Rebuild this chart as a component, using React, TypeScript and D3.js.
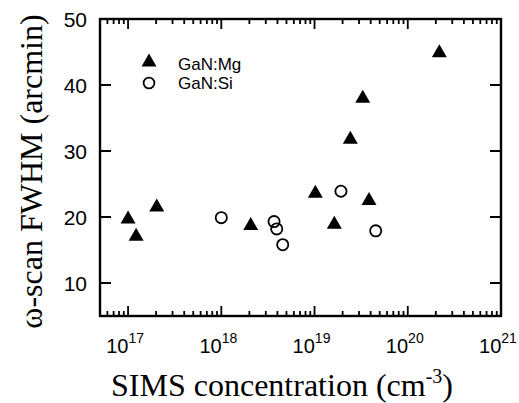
import React, { useEffect, useRef } from 'react';
import * as d3 from 'd3';

// GaN:Mg (filled triangles)
const mgConc = [1.0e17, 1.22e17, 2.03e17, 2.07e18, 1.02e19, 1.63e19, 2.42e19, 3.29e19, 3.84e19, 2.18e20];
const mgFwhm = [20.0, 17.4, 21.8, 19.0, 23.9, 19.2, 32.1, 38.3, 22.8, 45.2];

// GaN:Si (open circles)
const siConc = [1.0e18, 3.68e18, 3.93e18, 4.56e18, 1.92e19, 4.53e19];
const siFwhm = [19.9, 19.3, 18.2, 15.8, 23.9, 17.9];

const xDecades = [17, 18, 19, 20, 21];
const yTicks = [10, 20, 30, 40, 50];
const legendLabels = ['GaN:Mg', 'GaN:Si'];

const W = 519;
const H = 403;

const App = () => {
  const ref = useRef(null);

  useEffect(() => {
    const svg = d3.select(ref.current);
    svg.selectAll('*').remove();

    const left = 100, right = 501, top = 19, bottom = 316;
    const x = d3.scaleLog().domain([5e16, 1e21]).range([left, right]);
    const y = d3.scaleLinear().domain([5, 50]).range([bottom, top]);

    const g = svg.append('g');

    // minor + major ticks on x (bottom and top, pointing inward)
    const minor = [];
    for (let d = 16; d < 21; d++) {
      for (let m = 1; m < 10; m++) {
        const v = m * Math.pow(10, d);
        if (v >= 5e16 && v <= 1e21) minor.push(v);
      }
    }
    minor.push(1e21);
    minor.forEach(v => {
      const major = Math.abs(Math.log10(v) - Math.round(Math.log10(v))) < 1e-9;
      const len = major ? 10 : 5;
      g.append('line').attr('x1', x(v)).attr('x2', x(v))
        .attr('y1', bottom).attr('y2', bottom - len)
        .attr('stroke', '#000').attr('stroke-width', 1.8);
      g.append('line').attr('x1', x(v)).attr('x2', x(v))
        .attr('y1', top).attr('y2', top + len)
        .attr('stroke', '#000').attr('stroke-width', 1.8);
    });

    // y ticks (left and right, inward)
    yTicks.forEach(t => {
      g.append('line').attr('x1', left).attr('x2', left + 11)
        .attr('y1', y(t)).attr('y2', y(t))
        .attr('stroke', '#000').attr('stroke-width', 2);
      g.append('line').attr('x1', right).attr('x2', right - 11)
        .attr('y1', y(t)).attr('y2', y(t))
        .attr('stroke', '#000').attr('stroke-width', 2);
      g.append('text')
        .attr('x', 87).attr('y', y(t) + 7.5)
        .attr('text-anchor', 'end')
        .style('font-family', 'Liberation Sans, Arial, sans-serif')
        .style('font-size', '21px')
        .text(t);
    });

    // frame
    g.append('rect')
      .attr('x', left).attr('y', top)
      .attr('width', right - left).attr('height', bottom - top)
      .attr('fill', 'none').attr('stroke', '#000').attr('stroke-width', 2.4);

    // x tick labels 10^n
    xDecades.forEach(d => {
      const t = g.append('text')
        .attr('x', x(Math.pow(10, d)) - 3).attr('y', 353)
        .attr('text-anchor', 'middle')
        .style('font-family', 'Liberation Sans, Arial, sans-serif')
        .style('font-size', '20px');
      t.append('tspan').text('10');
      t.append('tspan').attr('dy', -10).style('font-size', '14px').text(d);
    });

    // axis titles
    const xt = g.append('text')
      .attr('x', 282).attr('y', 396)
      .attr('text-anchor', 'middle')
      .style('font-family', 'Liberation Serif, Times New Roman, serif')
      .style('font-size', '32px');
    xt.append('tspan').text('SIMS concentration (cm');
    xt.append('tspan').attr('dy', -13).style('font-size', '20px').text('-3');
    xt.append('tspan').attr('dy', 13).text(')');

    g.append('text')
      .attr('transform', `translate(42,${(top + bottom) / 2 + 4}) rotate(-90)`)
      .attr('text-anchor', 'middle')
      .style('font-family', 'Liberation Serif, Times New Roman, serif')
      .style('font-size', '32px')
      .text('\u03c9-scan FWHM (arcmin)');

    const tri = 'M0,-6.5L7.5,6.5L-7.5,6.5Z';

    // data
    g.selectAll('.mg').data(mgConc).enter().append('path')
      .attr('class', 'mg')
      .attr('d', tri)
      .attr('transform', (d, i) => `translate(${x(d)},${y(mgFwhm[i])})`)
      .attr('fill', '#000');

    g.selectAll('.si').data(siConc).enter().append('circle')
      .attr('class', 'si')
      .attr('cx', d => x(d)).attr('cy', (d, i) => y(siFwhm[i]))
      .attr('r', 5.6)
      .attr('fill', 'none').attr('stroke', '#000').attr('stroke-width', 1.8);

    // legend
    g.append('path').attr('d', tri).attr('transform', 'translate(149,60)').attr('fill', '#000');
    g.append('circle').attr('cx', 149).attr('cy', 83).attr('r', 5.4)
      .attr('fill', 'none').attr('stroke', '#000').attr('stroke-width', 1.8);
    legendLabels.forEach((l, i) => {
      g.append('text')
        .attr('x', 178).attr('y', 70 + i * 19)
        .style('font-family', 'Liberation Sans, Arial, sans-serif')
        .style('font-size', '17px')
        .text(l);
    });
  }, []);

  return (
    <svg ref={ref} width={W} height={H}
      style={{ position: 'absolute', left: 0, top: 0, background: '#fff' }} />
  );
};

export default App;
